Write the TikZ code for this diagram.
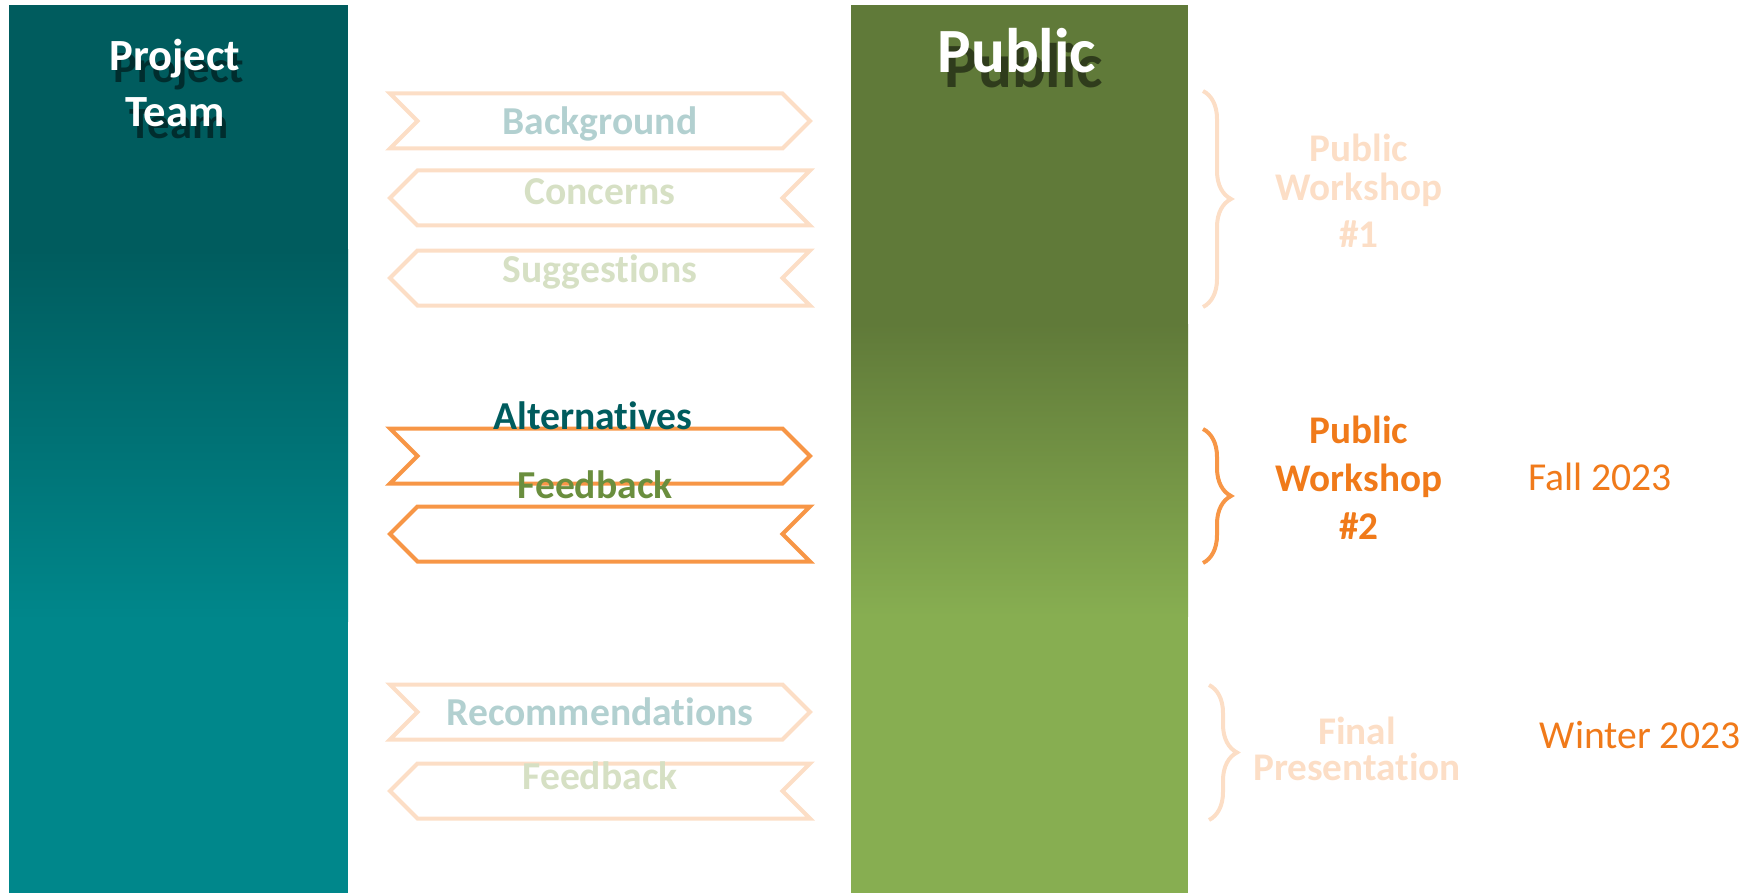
\documentclass[tikz,border=0pt]{standalone}
\usepackage{fontspec}
\setmainfont{Carlito}[Ligatures=NoCommon]
\usetikzlibrary{shapes.symbols,decorations.pathreplacing,positioning,calc}
\definecolor{teamtop}{HTML}{005C5E}
\definecolor{teambot}{HTML}{00878B}
\definecolor{pubtop}{HTML}{607A39}
\definecolor{pubbot}{HTML}{87AE51}
\definecolor{orangeln}{HTML}{F79646}
\definecolor{orangetx}{HTML}{F07A1A}
\definecolor{fadeorange}{HTML}{FCDEC6}
\definecolor{fadeteal}{HTML}{B2D0D0}
\definecolor{fadegreen}{HTML}{D6E0C4}
\definecolor{feedgreen}{HTML}{6A8E3E}
\tikzset{
	chev/.style={signal, signal pointer angle=90, line width=2pt, inner sep=0pt,
		minimum width=210pt, minimum height=27.5pt, draw=#1},
	chevR/.style={chev=#1, signal to=east, signal from=west},
	chevL/.style={chev=#1, signal to=west, signal from=east},
	msglbl/.style={font=\fontsize{19.8}{24}\selectfont\bfseries, anchor=base, inner sep=0pt},
	headlbl/.style={text=white, align=center, anchor=base, inner sep=0pt},
	shadlbl/.style={text=black, opacity=0.5, align=center, anchor=base, inner sep=0pt},
	evtlbl/.style={font=\fontsize{19.6}{24}\selectfont\bfseries, align=center, anchor=base, inner sep=0pt},
	datelbl/.style={font=\fontsize{19.8}{24}\selectfont, text=orangetx, anchor=base, inner sep=0pt},
	pbrace/.style={decorate, decoration={brace, amplitude=14pt}, line width=2pt, draw=#1}
}
\newcommand{\teamfont}{\fontsize{22.3}{28}\selectfont\bfseries}
\newcommand{\pubfont}{\fontsize{31.5}{36}\selectfont\bfseries}
\begin{document}
\begin{tikzpicture}[x=0.5pt, y=-0.5pt]
	\useasboundingbox (0,0) rectangle (1754,893);
	% columns
	\fill[teamtop] (9,5) rectangle (348,250);
	\shade[top color=teamtop, bottom color=teambot] (9,249) rectangle (348,621);
	\fill[teambot] (9,620) rectangle (348,893);
	\fill[pubtop] (851,5) rectangle (1188,325);
	\shade[top color=pubtop, bottom color=pubbot] (851,324) rectangle (1188,616);
	\fill[pubbot] (851,615) rectangle (1188,893);
	% column titles
	\node[shadlbl, font=\teamfont] (teamsh) at (179,139) {Project\\Team};
	\node[headlbl, font=\teamfont] (team) at (175,127) {Project\\Team};
	\node[shadlbl, font=\pubfont] (pubsh) at (1024,88) {Public};
	\node[headlbl, font=\pubfont] (pub) at (1017,73) {Public};
	% workshop 1
	\node[chevR=fadeorange] (bg) at (600,121) {};
	\node[chevL=fadeorange] (conc) at (600,198) {};
	\node[chevL=fadeorange] (sugg) at (600,278) {};
	\node[msglbl, text=fadeteal] (bgt) at (600,135) {Background};
	\node[msglbl, text=fadegreen] (conct) at (600,205) {Concerns};
	\node[msglbl, text=fadegreen] (suggt) at (600,282) {Suggestions};
	% workshop 2
	\node[chevR=orangeln] (alt) at (600,456) {};
	\node[chevL=orangeln] (fb) at (600,534) {};
	\node[msglbl, text=teamtop] (altt) at (593,429) {Alternatives};
	\node[msglbl, text=feedgreen] (fbt) at (595,498) {Feedback};
	% final
	\node[chevR=fadeorange] (rec) at (600,712) {};
	\node[chevL=fadeorange] (fb2) at (600,791) {};
	\node[msglbl, text=fadeteal] (rect) at (600,725) {Recommendations};
	\node[msglbl, text=fadegreen] (fb2t) at (600,789) {Feedback};
	% events
	\coordinate (b1t) at (1203,91);
	\coordinate (b1b) at (1203,307);
	\coordinate (b2t) at (1203,429);
	\coordinate (b2b) at (1203,563);
	\coordinate (b3t) at (1209,685);
	\coordinate (b3b) at (1209,820);
	\draw[pbrace=fadeorange] (b1t) -- (b1b);
	\draw[pbrace=orangeln] (b2t) -- (b2b);
	\draw[pbrace=fadeorange] (b3t) -- (b3b);
	\node[evtlbl, text=fadeorange] (ws1) at (1359,248) {Public\\[-5pt]Workshop\\\#1};
	\node[evtlbl, text=orangetx] (ws2) at (1359,539) {Public\\Workshop\\\#2};
	\node[evtlbl, text=fadeorange] (fin) at (1357,780) {Final\\[-6pt]Presentation};
	\node[datelbl] (fall) at (1600,490) {Fall 2023};
	\node[datelbl] (wint) at (1640,748) {Winter 2023};
\end{tikzpicture}
\end{document}
